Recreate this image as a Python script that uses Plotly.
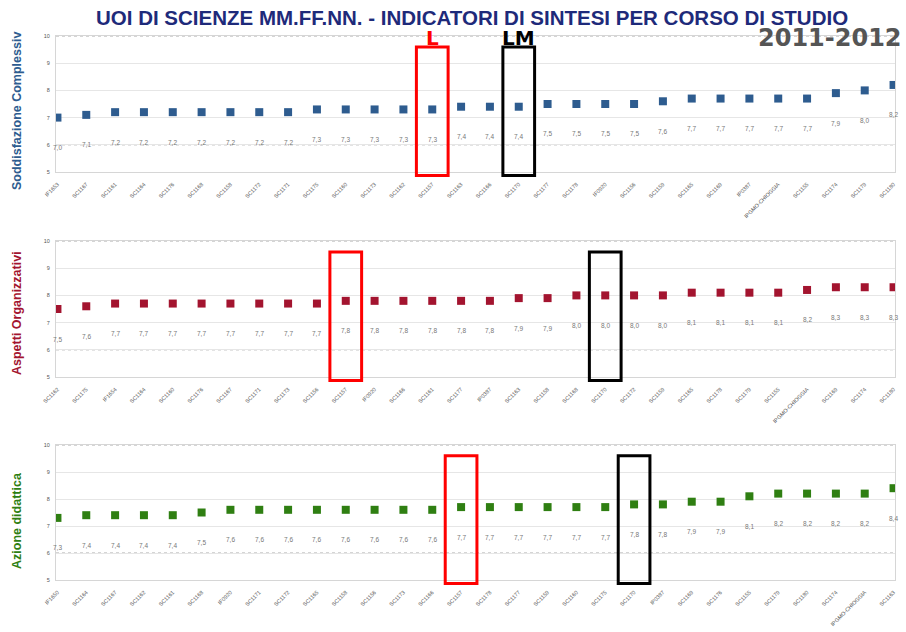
import plotly.graph_objects as go

# ---------------- data ----------------
cats_top = ["IF1653", "SC1167", "SC1161", "SC1164", "SC1176", "SC1168", "SC1158", "SC1172",
            "SC1171", "SC1175", "SC1160", "SC1173", "SC1162", "SC1157", "SC1163", "SC1166",
            "SC1170", "SC1177", "SC1178", "IF0920", "SC1156", "SC1159", "SC1165", "SC1169",
            "IP0387", "IPGMO-CHIOGGIA", "SC1155", "SC1174", "SC1179", "SC1180"]
vals_top = [7.0, 7.1, 7.2, 7.2, 7.2, 7.2, 7.2, 7.2, 7.2, 7.3, 7.3, 7.3, 7.3, 7.3, 7.4,
            7.4, 7.4, 7.5, 7.5, 7.5, 7.5, 7.6, 7.7, 7.7, 7.7, 7.7, 7.7, 7.9, 8.0, 8.2]

cats_mid = ["SC1162", "SC1175", "IF1654", "SC1164", "SC1160", "SC1176", "SC1167", "SC1171",
            "SC1173", "SC1156", "SC1157", "IF0920", "SC1166", "SC1161", "SC1177", "IP0387",
            "SC1163", "SC1158", "SC1168", "SC1170", "SC1172", "SC1159", "SC1165", "SC1178",
            "SC1179", "SC1155", "IPGMO-CHIOGGIA", "SC1169", "SC1174", "SC1180"]
vals_mid = [7.5, 7.6, 7.7, 7.7, 7.7, 7.7, 7.7, 7.7, 7.7, 7.7, 7.8, 7.8, 7.8, 7.8, 7.8,
            7.8, 7.9, 7.9, 8.0, 8.0, 8.0, 8.0, 8.1, 8.1, 8.1, 8.1, 8.2, 8.3, 8.3, 8.3]

cats_bot = ["IF1650", "SC1164", "SC1167", "SC1162", "SC1161", "SC1168", "IF0920", "SC1171",
            "SC1172", "SC1165", "SC1158", "SC1156", "SC1173", "SC1166", "SC1157", "SC1178",
            "SC1177", "SC1159", "SC1160", "SC1175", "SC1170", "IP0387", "SC1169", "SC1176",
            "SC1155", "SC1179", "SC1180", "SC1174", "IPGMO-CHIOGGIA", "SC1163"]
vals_bot = [7.3, 7.4, 7.4, 7.4, 7.4, 7.5, 7.6, 7.6, 7.6, 7.6, 7.6, 7.6, 7.6, 7.6, 7.7,
            7.7, 7.7, 7.7, 7.7, 7.7, 7.8, 7.8, 7.9, 7.9, 8.1, 8.2, 8.2, 8.2, 8.2, 8.4]

panel_titles = ["Soddisfazione Complessiv", "Aspetti Organizzativi", "Azione didattica"]
panel_colors = ["#2e5c8f", "#a3142f", "#2f7f12"]
highlight_L = ["SC1157", "SC1157", "SC1157"]
highlight_LM = ["SC1170", "SC1170", "SC1170"]
y_ticks = [5, 6, 7, 8, 9, 10]
dashed_levels = [6, 10]

title_text = "UOI DI SCIENZE MM.FF.NN. - INDICATORI DI SINTESI PER CORSO DI STUDIO"
year_text = "2011-2012"

# ---------------- figure ----------------
W, H = 906, 632
fig = go.Figure()

panels = [(cats_top, vals_top), (cats_mid, vals_mid), (cats_bot, vals_bot)]
# plot area pixel bounds (top, bottom) for each panel
pix = [(36, 172), (241, 377), (445, 580)]
x_dom = [56 / W, 895 / W]
title_centers = [111, 313, 521]

annotations = []
shapes = []
for i, ((cats, vals), (pt, pb)) in enumerate(zip(panels, pix)):
    n = "" if i == 0 else str(i + 1)
    xa, ya = "x" + n, "y" + n
    fig.add_trace(go.Scatter(
        x=cats, y=vals, mode="markers", xaxis=xa, yaxis=ya,
        marker=dict(symbol="square", size=8, color=panel_colors[i]),
        showlegend=False, hoverinfo="x+y"))
    dom = [(H - pb) / H, (H - pt) / H]
    fig.layout["xaxis" + n] = dict(
        domain=x_dom, anchor=ya, type="category", categoryorder="array",
        categoryarray=cats, range=[-0.05, len(cats) - 0.95],
        tickangle=-45, tickfont=dict(size=5.5, color="#555", family="Arial"),
        ticklabelstandoff=6,
        showgrid=False, showline=True, linecolor="#d6d6d6", linewidth=1,
        mirror=True, ticks="", automargin=False)
    fig.layout["yaxis" + n] = dict(
        domain=dom, anchor=xa, range=[5, 10], tickvals=y_ticks,
        ticktext=[str(t) for t in y_ticks],
        tickfont=dict(size=5.5, color="#555", family="Arial"),
        ticklabelstandoff=4,
        showgrid=True, gridcolor="#e6e6e6", gridwidth=1.2, zeroline=False,
        showline=True, linecolor="#d6d6d6", mirror=True, ticks="", automargin=False)
    # dotted reference lines
    for lv in dashed_levels:
        shapes.append(dict(
            type="line", xref=xa + " domain", yref=ya, x0=0, x1=1, y0=lv, y1=lv,
            line=dict(color="#c8c8c8", width=1.3, dash="dot"), layer="below"))
    # value labels under markers
    for c, v in zip(cats, vals):
        annotations.append(dict(
            x=c, y=v, xref=xa, yref=ya, yshift=-30, showarrow=False,
            text=f"{v:.1f}".replace(".", ","),
            font=dict(size=6.5, color="#777", family="Arial")))
    # y-axis titles
    annotations.append(dict(
        x=17 / W, y=(H - title_centers[i]) / H, xref="paper", yref="paper",
        xanchor="center", yanchor="middle",
        text="<b>" + panel_titles[i] + "</b>", textangle=-90, showarrow=False,
        font=dict(size=12.5, color=panel_colors[i], family="Arial")))
    # highlight boxes
    for key, col, lab in ((highlight_L[i], "#ff0000", "L"), (highlight_LM[i], "#000000", "LM")):
        idx = cats.index(key)
        shapes.append(dict(
            type="rect", xref=xa, yref=ya + " domain",
            x0=idx - 0.55, x1=idx + 0.55, y0=-0.025, y1=0.92,
            line=dict(color=col, width=3), fillcolor="rgba(0,0,0,0)"))
        if i == 0:
            annotations.append(dict(
                x=idx, y=0.985, xref=xa, yref=ya + " domain",
                xanchor="center", yanchor="middle",
                text="<b>" + lab + "</b>", showarrow=False,
                font=dict(size=20, color=col, family="DejaVu Sans")))

annotations.append(dict(
    x=472 / W, y=(H - 17.5) / H, xref="paper", yref="paper",
    xanchor="center", yanchor="middle",
    text="<b>" + title_text + "</b>", showarrow=False,
    font=dict(size=20.5, color="#1e2a7a", family="Liberation Sans Narrow, Arial Narrow, Arial")))
annotations.append(dict(
    x=904 / W, y=(H - 38.5) / H, xref="paper", yref="paper",
    xanchor="right", yanchor="middle",
    text="<b>" + year_text + "</b>", showarrow=False,
    font=dict(size=24, color="#555555", family="DejaVu Sans")))

fig.update_layout(
    width=W, height=H, margin=dict(l=0, r=0, t=0, b=0),
    paper_bgcolor="white", plot_bgcolor="white",
    annotations=annotations, shapes=shapes)

fig.write_html("out.html", config={"displayModeBar": False},
               post_script="document.body.style.margin='0px';document.body.style.overflow='hidden';")
